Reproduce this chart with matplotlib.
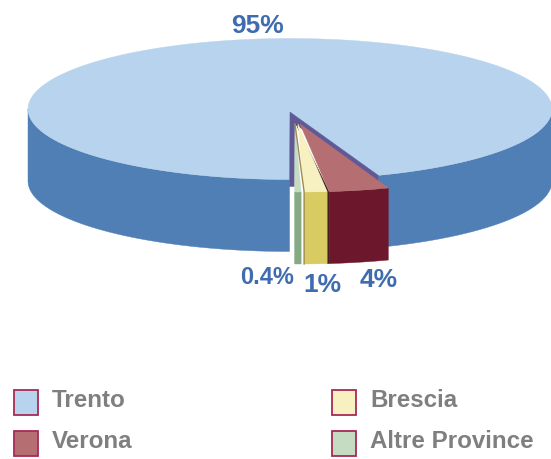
import numpy as np
import matplotlib.pyplot as plt
from matplotlib.patches import Polygon, Rectangle

names = ["Trento", "Verona", "Brescia", "Altre Province"]
shares = [94.5, 3.7, 1.4, 0.4]
pct_labels = ["95%", "4%", "1%", "0.4%"]

top_cols = ["#b7d3ee", "#b56f72", "#f7f0c0", "#c5dcc2"]
side_cols = ["#4f7fb5", "#6d172c", "#d8cb62", "#85ab85"]
cut_col = "#5f5a96"
dark_col = "#3f1f25"
tan_col = "#a08a50"
text_col = "#7f7f7f"
pct_col = "#3f6cb0"
box_edge = "#a82a55"

depth = 72
start = 90.1  # angle of the cut on the left, going towards the right side
deg = 360 * np.array(shares) / sum(shares)

plt.rcParams["font.family"] = ["Liberation Sans", "DejaVu Sans"]
fig = plt.figure(figsize=(5.51, 4.6), dpi=100)
ax = fig.add_axes([0, 0, 1, 1])
ax.set_xlim(0, 551)
ax.set_ylim(460, 0)
ax.axis("off")


def arc(cx, cy, rx, ry, a0, a1, n=120):
    t = np.radians(np.linspace(a0, a1, n))
    return np.column_stack([cx + rx * np.cos(t), cy + ry * np.sin(t)])


def fill(pts, col, z):
    ax.add_patch(Polygon(pts, closed=True, fc=col, ec=col, lw=0.3, zorder=z))


def wall(pts, col, z):
    fill(np.vstack([pts, (pts + [0, depth])[::-1]]), col, z)


# big slice
cx, cy, rx, ry = 290, 110, 262, 70.5
a_right = start - deg[1:].sum()
a_left = start
wall(arc(cx, cy, rx, ry, a_left, 180), side_cols[0], 1)
wall(arc(cx, cy, rx, ry, 0, a_right), side_cols[0], 1)
top = arc(cx, cy, rx, ry, a_left, a_right + 360, 400)
fill(np.vstack([[[cx, cy + 3]], top]), top_cols[0], 2)

# cut faces seen behind the small slices
p_left = arc(cx, cy, rx, ry, a_left, a_left, 1)[0]
p_right = arc(cx, cy, rx, ry, a_right, a_right, 1)[0]
fill([[cx, cy + 3], p_left + [0, 7], p_left + [5, 7], [cx + 5, 125],
      p_right + [0, 7], p_right], cut_col, 3)

# small slices, drawn from the right
ax_, ay_, sr_x, sr_y = 295, 125, 262, 68
shifts = [5, 3, 0]
edges = start - np.cumsum(np.r_[0, deg[::-1][:-1]])
a0s = {3: edges[0], 2: edges[1], 1: edges[2]}
for i, shift in zip([1, 2, 3], shifts):
    a_hi = a0s[i]
    a_lo = a_hi - deg[i]
    ox = ax_ + shift
    rim = arc(ox, ay_, sr_x, sr_y, a_hi, a_lo, 20)
    if i == 1:
        prev = arc(ax_ + shifts[1], ay_, sr_x, sr_y, a_hi, a_hi, 1)[0]
        fill([[ax_ + 1, ay_], prev, prev + [0, depth], rim[0] + [0, depth], rim[0]], dark_col, 4)
    wall(rim, side_cols[i], 5)
    fill(np.vstack([[[ox, ay_]], rim]), top_cols[i], 6)
    if i == 2:
        ax.plot([ox - 3, rim[0, 0], rim[0, 0]], [ay_, rim[0, 1], rim[0, 1] + depth],
                color=tan_col, lw=1, zorder=7)

# percentage labels
for lab, x, y, fs in zip(pct_labels, [258, 379, 322, 267], [26, 280, 285, 278], [19, 19, 19, 17]):
    ax.text(x, y, lab, color=pct_col, fontsize=fs, fontweight="bold", ha="center", va="center")

# legend, two rows in two columns
for k, (nm, col) in enumerate(zip(names, top_cols)):
    row = k % 2
    x0 = 14 + 318 * (k // 2)
    y0 = 391 + 41 * row
    ax.add_patch(Rectangle((x0, y0), 24, 25, fc=col, ec=box_edge, lw=1.3))
    ax.text(x0 + 38, y0 + 10, nm, color=text_col, fontsize=17.4, fontweight="bold", va="center")

fig.savefig("out.png", dpi=100)
